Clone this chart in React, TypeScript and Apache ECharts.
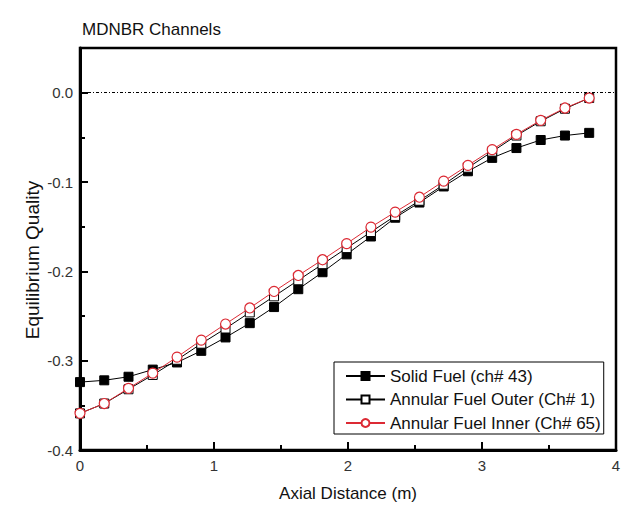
import React, { useEffect, useRef } from "react";
import * as echarts from "echarts";

const axialDistance = [
  0, 0.181, 0.362, 0.543, 0.724, 0.905, 1.086, 1.267, 1.448, 1.629, 1.81,
  1.99, 2.171, 2.352, 2.533, 2.714, 2.895, 3.076, 3.257, 3.438, 3.619, 3.8,
];
const solidFuel = [
  -0.324, -0.322, -0.318, -0.31, -0.302, -0.289, -0.274, -0.258, -0.24, -0.22,
  -0.201, -0.181, -0.161, -0.14, -0.123, -0.105, -0.088, -0.073, -0.062,
  -0.053, -0.048, -0.045,
];
const annularOuter = [
  -0.359, -0.348, -0.332, -0.316, -0.299, -0.281, -0.264, -0.246, -0.228,
  -0.21, -0.192, -0.174, -0.156, -0.138, -0.121, -0.103, -0.084, -0.066,
  -0.048, -0.032, -0.018, -0.006,
];
const annularInner = [
  -0.359, -0.348, -0.331, -0.314, -0.296, -0.277, -0.259, -0.241, -0.2225,
  -0.2046, -0.187, -0.169, -0.1505, -0.1337, -0.117, -0.099, -0.0814, -0.0638,
  -0.0467, -0.031, -0.0172, -0.006,
];
const seriesNames = [
  "Solid Fuel (ch# 43)",
  "Annular Fuel Outer (Ch# 1)",
  "Annular Fuel Inner (Ch# 65)",
];
const yMajorTicks = [-0.4, -0.3, -0.2, -0.1, 0];
const yMinorTicks = [-0.35, -0.25, -0.15, -0.05];

const FONT = "'Liberation Sans', Arial, Helvetica, sans-serif";
const RED = "#dc2a34";

export default function App() {
  const ref = useRef<HTMLDivElement>(null);
  useEffect(() => {
    if (!ref.current) return;
    const chart = echarts.init(ref.current, undefined, { renderer: "svg" });
    const pairs = (ys: number[]) => axialDistance.map((x, i) => [x, ys[i]]);
    chart.setOption({
      animation: false,
      backgroundColor: "#fff",
      textStyle: { fontFamily: FONT },
      title: {
        text: "MDNBR Channels",
        left: 82,
        top: 21,
        padding: 0,
        textStyle: { fontFamily: FONT, fontSize: 17, fontWeight: "normal", color: "#111" },
      },
      grid: {
        left: 80,
        right: 22,
        top: 48,
        bottom: 79,
        show: true,
        borderColor: "#000",
        borderWidth: 2.5,
        containLabel: false,
      },
      legend: {
        orient: "vertical",
        left: 334,
        top: 362,
        itemWidth: 39,
        itemHeight: 10,
        itemGap: 3.5,
        padding: [4, 3, 1, 11],
        borderColor: "#000",
        borderWidth: 1,
        backgroundColor: "#fff",
        textStyle: { fontFamily: FONT, fontSize: 17, color: "#111", lineHeight: 20 },
        data: seriesNames,
      },
      xAxis: {
        type: "value",
        min: 0,
        max: 4,
        interval: 1,
        name: "Axial Distance (m)",
        nameLocation: "middle",
        nameGap: 35,
        nameTextStyle: { fontFamily: FONT, fontSize: 17, color: "#111" },
        axisLine: { show: true, onZero: false, lineStyle: { color: "#000", width: 3 } },
        axisTick: { show: true, inside: true, length: 8, lineStyle: { color: "#000", width: 2 } },
        minorTick: { show: true, splitNumber: 2, length: 5, lineStyle: { color: "#000", width: 2 } },
        axisLabel: { fontFamily: FONT, fontSize: 15, color: "#333", margin: 8 },
        splitLine: { show: false },
      },
      yAxis: [
        {
          type: "value",
          min: -0.4,
          max: 0.05,
          interval: 0.1,
          axisLine: { show: true, onZero: false, lineStyle: { color: "#000", width: 3 } },
          axisTick: {
            show: true,
            inside: true,
            length: 8,
            customValues: yMajorTicks,
            lineStyle: { color: "#000", width: 2 },
          },
          axisLabel: {
            fontFamily: FONT,
            fontSize: 15,
            color: "#333",
            margin: 7,
            customValues: yMajorTicks,
            formatter: (v: number) => v.toFixed(1),
          },
          splitLine: { show: false },
        },
        {
          type: "value",
          min: -0.4,
          max: 0.05,
          interval: 0.1,
          position: "left",
          axisLine: { show: false },
          axisTick: {
            show: true,
            inside: true,
            length: 5,
            customValues: yMinorTicks,
            lineStyle: { color: "#000", width: 2 },
          },
          axisLabel: { show: false },
          splitLine: { show: false },
        },
      ],
      graphic: [
        {
          type: "text",
          x: 32,
          y: 260,
          rotation: Math.PI / 2,
          style: {
            text: "Equilibrium Quality",
            fontFamily: FONT,
            fontSize: 19,
            fill: "#111",
            align: "center",
            verticalAlign: "middle",
          },
        },
      ],
      series: [
        {
          name: seriesNames[0],
          type: "line",
          data: pairs(solidFuel),
          symbol: "rect",
          symbolSize: 9,
          lineStyle: { color: "#000", width: 1 },
          itemStyle: { color: "#000", borderColor: "#000", borderWidth: 1 },
          z: 2,
          markLine: {
            silent: true,
            symbol: "none",
            label: { show: false },
            lineStyle: { color: "#000", width: 1, type: [3, 2, 1, 2] },
            data: [{ yAxis: 0 }],
          },
        },
        {
          name: seriesNames[1],
          type: "line",
          data: pairs(annularOuter),
          symbol: "rect",
          symbolSize: 9,
          lineStyle: { color: "#000", width: 1 },
          itemStyle: { color: "#fff", borderColor: "#000", borderWidth: 1 },
          z: 3,
        },
        {
          name: seriesNames[2],
          type: "line",
          data: pairs(annularInner),
          symbol: "circle",
          symbolSize: 10,
          lineStyle: { color: RED, width: 1 },
          itemStyle: { color: "#fff", borderColor: RED, borderWidth: 1.2 },
          z: 4,
        },
      ],
    });
    return () => chart.dispose();
  }, []);
  return (
    <div
      ref={ref}
      style={{ position: "fixed", left: 0, top: 0, width: 638, height: 529, background: "#fff" }}
    />
  );
}
